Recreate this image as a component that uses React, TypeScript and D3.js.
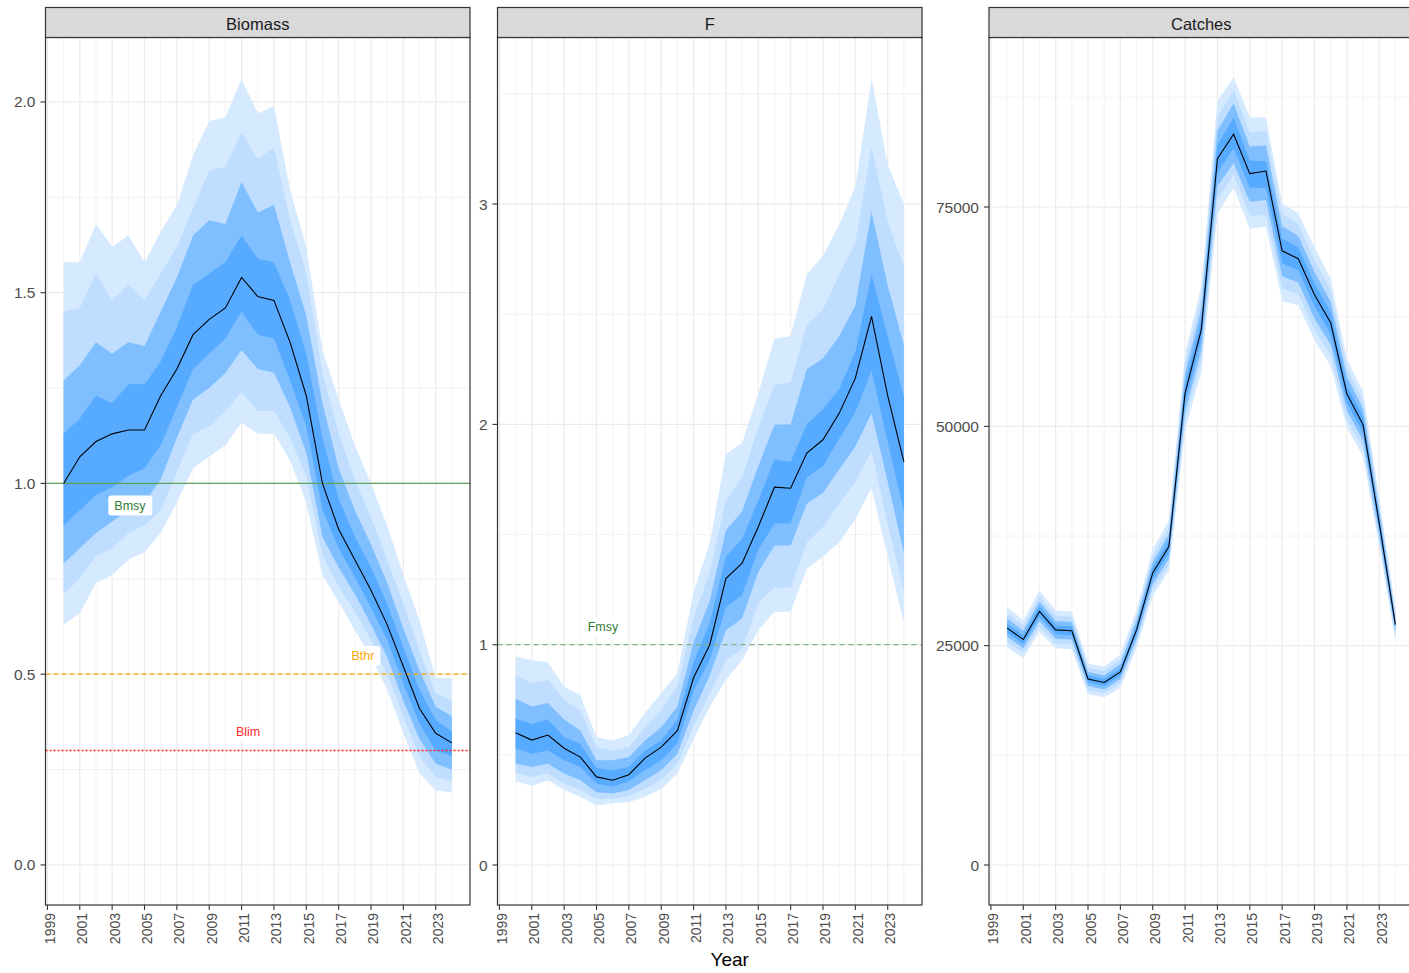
import { useEffect, useRef } from 'react';
import * as d3 from 'd3';

// years shown on every panel
const years = [
  2000, 2001, 2002, 2003, 2004, 2005, 2006, 2007, 2008, 2009, 2010, 2011, 2012,
  2013, 2014, 2015, 2016, 2017, 2018, 2019, 2020, 2021, 2022, 2023, 2024,
];

// each row: lo4, lo3, lo2, lo1, median, hi1, hi2, hi3, hi4
const biomass = [
  [0.63, 0.71, 0.79, 0.89, 1.0, 1.13, 1.27, 1.45, 1.58],
  [0.66, 0.75, 0.83, 0.93, 1.07, 1.17, 1.31, 1.46, 1.58],
  [0.74, 0.81, 0.87, 0.97, 1.11, 1.23, 1.37, 1.55, 1.68],
  [0.76, 0.83, 0.9, 0.99, 1.13, 1.21, 1.34, 1.48, 1.62],
  [0.8, 0.87, 0.93, 1.02, 1.14, 1.26, 1.37, 1.52, 1.65],
  [0.82, 0.89, 0.95, 1.04, 1.14, 1.26, 1.36, 1.48, 1.58],
  [0.87, 0.93, 1.01, 1.1, 1.23, 1.32, 1.45, 1.55, 1.66],
  [0.95, 1.03, 1.12, 1.2, 1.3, 1.41, 1.54, 1.62, 1.73],
  [1.04, 1.13, 1.22, 1.3, 1.39, 1.52, 1.65, 1.72, 1.86],
  [1.07, 1.15, 1.25, 1.34, 1.43, 1.55, 1.69, 1.82, 1.95],
  [1.1, 1.19, 1.29, 1.38, 1.46, 1.58, 1.68, 1.83, 1.96],
  [1.16, 1.24, 1.35, 1.45, 1.54, 1.65, 1.79, 1.92, 2.06],
  [1.13, 1.19, 1.3, 1.39, 1.49, 1.59, 1.71, 1.85, 1.97],
  [1.13, 1.19, 1.29, 1.38, 1.48, 1.58, 1.73, 1.88, 1.99],
  [1.06, 1.12, 1.2, 1.27, 1.37, 1.48, 1.58, 1.69, 1.77],
  [0.95, 1.02, 1.08, 1.15, 1.23, 1.34, 1.44, 1.55, 1.62],
  [0.76, 0.81, 0.86, 0.93, 1.0, 1.12, 1.21, 1.29, 1.35],
  [0.69, 0.73, 0.78, 0.83, 0.88, 0.96, 1.04, 1.13, 1.22],
  [0.615, 0.665, 0.71, 0.755, 0.8, 0.86, 0.93, 1.01, 1.1],
  [0.545, 0.59, 0.63, 0.675, 0.72, 0.78, 0.84, 0.91, 1.0],
  [0.46, 0.5, 0.545, 0.59, 0.63, 0.685, 0.74, 0.8, 0.89],
  [0.345, 0.39, 0.43, 0.475, 0.52, 0.57, 0.62, 0.685, 0.76],
  [0.24, 0.285, 0.33, 0.37, 0.41, 0.46, 0.51, 0.56, 0.64],
  [0.195, 0.23, 0.265, 0.3, 0.345, 0.38, 0.415, 0.45, 0.49],
  [0.19, 0.22, 0.25, 0.285, 0.32, 0.35, 0.39, 0.43, 0.49],
];

const fishing = [
  [0.38, 0.42, 0.46, 0.53, 0.6, 0.665, 0.755, 0.86, 0.945],
  [0.36, 0.4, 0.445, 0.505, 0.567, 0.64, 0.72, 0.825, 0.93],
  [0.385, 0.415, 0.46, 0.52, 0.59, 0.66, 0.735, 0.84, 0.92],
  [0.34, 0.37, 0.415, 0.475, 0.53, 0.58, 0.66, 0.75, 0.81],
  [0.31, 0.34, 0.385, 0.445, 0.49, 0.55, 0.61, 0.7, 0.77],
  [0.27, 0.3, 0.33, 0.37, 0.4, 0.44, 0.475, 0.535, 0.58],
  [0.28, 0.3, 0.325, 0.355, 0.385, 0.43, 0.475, 0.52, 0.565],
  [0.285, 0.315, 0.34, 0.38, 0.41, 0.445, 0.49, 0.535, 0.59],
  [0.31, 0.345, 0.385, 0.43, 0.485, 0.52, 0.565, 0.625, 0.69],
  [0.345, 0.385, 0.43, 0.475, 0.535, 0.565, 0.625, 0.7, 0.78],
  [0.415, 0.46, 0.505, 0.55, 0.61, 0.66, 0.72, 0.81, 0.87],
  [0.57, 0.63, 0.7, 0.79, 0.85, 0.92, 1.01, 1.12, 1.24],
  [0.72, 0.78, 0.86, 0.93, 1.0, 1.1, 1.2, 1.33, 1.46],
  [0.84, 0.93, 1.065, 1.17, 1.3, 1.4, 1.52, 1.655, 1.865],
  [0.93, 0.98, 1.12, 1.225, 1.37, 1.48, 1.605, 1.76, 1.915],
  [1.065, 1.19, 1.33, 1.43, 1.535, 1.655, 1.81, 1.985, 2.14],
  [1.15, 1.26, 1.45, 1.55, 1.715, 1.84, 2.0, 2.18, 2.39],
  [1.15, 1.26, 1.45, 1.55, 1.71, 1.83, 2.0, 2.19, 2.4],
  [1.345, 1.465, 1.64, 1.76, 1.87, 2.0, 2.25, 2.45, 2.68],
  [1.4, 1.535, 1.69, 1.81, 1.93, 2.07, 2.3, 2.52, 2.765],
  [1.465, 1.64, 1.795, 1.935, 2.05, 2.16, 2.4, 2.68, 2.905],
  [1.57, 1.74, 1.9, 2.055, 2.21, 2.33, 2.54, 2.82, 3.08],
  [1.71, 1.88, 2.05, 2.245, 2.49, 2.68, 2.965, 3.26, 3.57],
  [1.4, 1.55, 1.74, 1.92, 2.13, 2.4, 2.63, 2.92, 3.18],
  [1.1, 1.24, 1.415, 1.605, 1.83, 2.125, 2.36, 2.715, 3.0],
];

const catches = [
  [24800, 25400, 26000, 26500, 27000, 27500, 28100, 28700, 29400],
  [23600, 24200, 24700, 25200, 25700, 26200, 26700, 27300, 27900],
  [26600, 27200, 27800, 28300, 28900, 29500, 30000, 30600, 31300],
  [24700, 25200, 25800, 26300, 26800, 27300, 27800, 28400, 29000],
  [24600, 25200, 25700, 26200, 26700, 27200, 27700, 28300, 28900],
  [19500, 19900, 20400, 20800, 21200, 21600, 22000, 22500, 23000],
  [19100, 19600, 20000, 20400, 20800, 21200, 21600, 22100, 22600],
  [20200, 20700, 21200, 21600, 22000, 22400, 22900, 23400, 24000],
  [24700, 25300, 25800, 26300, 26800, 27300, 27900, 28400, 29100],
  [30700, 31400, 32000, 32600, 33300, 33900, 34500, 35200, 36000],
  [33500, 34200, 34900, 35600, 36300, 37000, 37700, 38500, 39300],
  [49500, 50600, 51600, 52700, 53800, 54900, 56000, 57200, 58300],
  [56200, 57400, 58600, 59800, 61000, 62200, 63400, 64700, 66000],
  [74200, 75800, 77400, 78900, 80500, 82100, 83700, 85300, 87100],
  [77200, 78700, 80000, 81700, 83300, 85200, 86800, 88300, 89800],
  [72500, 74000, 75600, 77200, 78800, 80300, 81900, 83500, 85200],
  [72800, 74100, 75800, 77200, 79100, 80200, 82000, 83700, 85200],
  [64300, 65700, 67100, 68600, 70000, 71400, 72800, 74200, 75400],
  [63800, 65100, 66400, 67800, 69100, 70400, 71700, 73000, 74300],
  [59800, 61000, 62300, 63700, 65000, 66300, 67600, 69000, 70400],
  [56900, 58100, 59300, 60500, 61800, 63000, 64200, 65500, 66800],
  [49900, 50800, 51800, 52700, 53700, 54700, 55700, 56700, 57700],
  [46600, 47500, 48400, 49300, 50200, 51100, 52000, 53000, 54000],
  [36300, 37000, 37600, 38300, 39000, 39700, 40400, 41100, 41900],
  [25600, 26100, 26500, 27000, 27400, 27800, 28300, 28700, 29200],
];

const xTicks = [1999, 2001, 2003, 2005, 2007, 2009, 2011, 2013, 2015, 2017, 2019, 2021, 2023];
const xMinor = [2000, 2002, 2004, 2006, 2008, 2010, 2012, 2014, 2016, 2018, 2020, 2022, 2024];

const biomassTicks = [0, 0.5, 1, 1.5, 2];
const biomassMinor = [0.25, 0.75, 1.25, 1.75];
const fTicks = [0, 1, 2, 3];
const fMinor = [0.5, 1.5, 2.5, 3.5];
const catchTicks = [0, 25000, 50000, 75000];
const catchMinor = [12500, 37500, 62500, 87500];

// reference points: [value, colour, dash]
const biomassRefs: [number, string, string | null][] = [
  [1.0, '#5FA35F', null],
  [0.5, '#FFA500', '5,3'],
  [0.3, '#FF1A1A', '2,2'],
];
const fRefs: [number, string, string | null][] = [[1.0, '#7FB27F', '5,4']];

// labels: [text, year, value, colour]
const biomassLabels: [string, number, number, string][] = [
  ['Bmsy', 2004.1, 0.942, '#2E7D32'],
  ['Bthr', 2018.5, 0.548, '#FFA500'],
  ['Blim', 2011.4, 0.349, '#FF2A2A'],
];
const fLabels: [string, number, number, string][] = [['Fmsy', 2005.4, 1.08, '#2E7D32']];

const bandColors = ['#D5E9FF', '#BEDDFF', '#80BFFF', '#56AAFF'];

const W = 1409;
const H = 973;
const STRIP_TOP = 7.5;
const PANEL_TOP = 37.5;
const PANEL_BOTTOM = 905;
const X_DOMAIN = [1998.88, 2025.12];
const FONT = '"Liberation Sans", Arial, Helvetica, sans-serif';

const panels = [
  {
    key: 'biomass', title: 'Biomass', rows: biomass, left: 45.5, right: 470,
    yDomain: [-0.105, 2.169], ticks: biomassTicks, minor: biomassMinor,
    fmt: d3.format('.1f'), refs: biomassRefs, labels: biomassLabels,
  },
  {
    key: 'f', title: 'F', rows: fishing, left: 497.5, right: 922,
    yDomain: [-0.1815, 3.756], ticks: fTicks, minor: fMinor,
    fmt: d3.format('d'), refs: fRefs, labels: fLabels,
  },
  {
    key: 'catch', title: 'Catches', rows: catches, left: 989, right: 1413.5,
    yDomain: [-4559, 94320], ticks: catchTicks, minor: catchMinor,
    fmt: d3.format('d'), refs: [] as [number, string, string | null][], labels: [] as [string, number, number, string][],
  },
];

export default function App() {
  const svgRef = useRef<SVGSVGElement>(null);

  useEffect(() => {
    if (!svgRef.current) return;
    const svg = d3.select(svgRef.current);
    svg.selectAll('*').remove();

    svg.append('rect').attr('width', W).attr('height', H).attr('fill', '#ffffff');

    panels.forEach(p => {
      const x = d3.scaleLinear().domain(X_DOMAIN).range([p.left, p.right]);
      const y = d3.scaleLinear().domain(p.yDomain).range([PANEL_BOTTOM, PANEL_TOP]);
      const g = svg.append('g');

      const clipId = `clip-${p.key}`;
      svg.append('clipPath').attr('id', clipId)
        .append('rect')
        .attr('x', p.left).attr('y', PANEL_TOP)
        .attr('width', p.right - p.left).attr('height', PANEL_BOTTOM - PANEL_TOP);

      const body = g.append('g').attr('clip-path', `url(#${clipId})`);

      // grid
      body.selectAll('.vminor').data(xMinor).join('line')
        .attr('x1', d => x(d)).attr('x2', d => x(d))
        .attr('y1', PANEL_TOP).attr('y2', PANEL_BOTTOM)
        .attr('stroke', '#F0F0F0').attr('stroke-width', 0.9);
      body.selectAll('.hminor').data(p.minor).join('line')
        .attr('x1', p.left).attr('x2', p.right)
        .attr('y1', d => y(d)).attr('y2', d => y(d))
        .attr('stroke', '#F0F0F0').attr('stroke-width', 0.9);
      body.selectAll('.vmajor').data(xTicks).join('line')
        .attr('x1', d => x(d)).attr('x2', d => x(d))
        .attr('y1', PANEL_TOP).attr('y2', PANEL_BOTTOM)
        .attr('stroke', '#EBEBEB').attr('stroke-width', 1.2);
      body.selectAll('.hmajor').data(p.ticks).join('line')
        .attr('x1', p.left).attr('x2', p.right)
        .attr('y1', d => y(d)).attr('y2', d => y(d))
        .attr('stroke', '#EBEBEB').attr('stroke-width', 1.2);

      // uncertainty bands, outer to inner
      bandColors.forEach((col, k) => {
        const area = d3.area<number[]>()
          .x((_, i) => x(years[i]))
          .y0(d => y(d[k]))
          .y1(d => y(d[8 - k]));
        body.append('path').datum(p.rows).attr('d', area).attr('fill', col);
      });

      // reference lines
      p.refs.forEach(([v, col, dash]) => {
        const ln = body.append('line')
          .attr('x1', p.left).attr('x2', p.right)
          .attr('y1', y(v)).attr('y2', y(v))
          .attr('stroke', col).attr('stroke-width', 1.3);
        if (dash) ln.attr('stroke-dasharray', dash);
      });

      // median
      const line = d3.line<number[]>().x((_, i) => x(years[i])).y(d => y(d[4]));
      body.append('path').datum(p.rows).attr('d', line)
        .attr('fill', 'none').attr('stroke', '#000').attr('stroke-width', 1.1);

      // labels
      p.labels.forEach(([txt, yr, v, col]) => {
        const lg = body.append('g');
        const rect = lg.append('rect');
        const t = lg.append('text')
          .attr('x', x(yr)).attr('y', y(v))
          .attr('text-anchor', 'middle').attr('dominant-baseline', 'central')
          .attr('font-family', FONT).attr('font-size', 12.5)
          .attr('fill', col).text(txt);
        const bb = (t.node() as SVGTextElement).getBBox();
        rect.attr('x', bb.x - 6).attr('y', bb.y - 3)
          .attr('width', bb.width + 12).attr('height', bb.height + 6)
          .attr('rx', 3).attr('fill', '#ffffff');
      });

      // panel border
      g.append('rect')
        .attr('x', p.left).attr('y', PANEL_TOP)
        .attr('width', p.right - p.left).attr('height', PANEL_BOTTOM - PANEL_TOP)
        .attr('fill', 'none').attr('stroke', '#333333').attr('stroke-width', 1.2);

      // strip
      g.append('rect')
        .attr('x', p.left).attr('y', STRIP_TOP)
        .attr('width', p.right - p.left).attr('height', PANEL_TOP - STRIP_TOP)
        .attr('fill', '#D9D9D9').attr('stroke', '#333333').attr('stroke-width', 1.2);
      g.append('text')
        .attr('x', (p.left + p.right) / 2).attr('y', (STRIP_TOP + PANEL_TOP) / 2 + 1)
        .attr('text-anchor', 'middle').attr('dominant-baseline', 'central')
        .attr('font-family', FONT).attr('font-size', 16.5).attr('fill', '#1A1A1A')
        .text(p.title);

      // y axis
      g.selectAll('.ytick').data(p.ticks).join('line')
        .attr('x1', p.left - 5).attr('x2', p.left)
        .attr('y1', d => y(d)).attr('y2', d => y(d))
        .attr('stroke', '#333333').attr('stroke-width', 1.1);
      g.selectAll('.ylab').data(p.ticks).join('text')
        .attr('x', p.left - 10).attr('y', d => y(d))
        .attr('text-anchor', 'end').attr('dominant-baseline', 'central')
        .attr('font-family', FONT).attr('font-size', 15.5).attr('fill', '#4D4D4D')
        .text(d => p.fmt(d));

      // x axis
      g.selectAll('.xtick').data(xTicks).join('line')
        .attr('x1', d => x(d)).attr('x2', d => x(d))
        .attr('y1', PANEL_BOTTOM).attr('y2', PANEL_BOTTOM + 5)
        .attr('stroke', '#333333').attr('stroke-width', 1.1);
      g.selectAll('.xlab').data(xTicks).join('text')
        .attr('transform', d => `translate(${x(d) + 7.5},${PANEL_BOTTOM + 8}) rotate(-90)`)
        .attr('text-anchor', 'end')
        .attr('font-family', FONT).attr('font-size', 14).attr('fill', '#4D4D4D')
        .text(d => String(d));
    });

    svg.append('text')
      .attr('x', 729.75).attr('y', 966)
      .attr('text-anchor', 'middle')
      .attr('font-family', FONT).attr('font-size', 19).attr('fill', '#000')
      .text('Year');
  }, []);

  return (
    <svg
      ref={svgRef}
      width={W}
      height={H}
      style={{ position: 'absolute', left: 0, top: 0, display: 'block' }}
    />
  );
}
